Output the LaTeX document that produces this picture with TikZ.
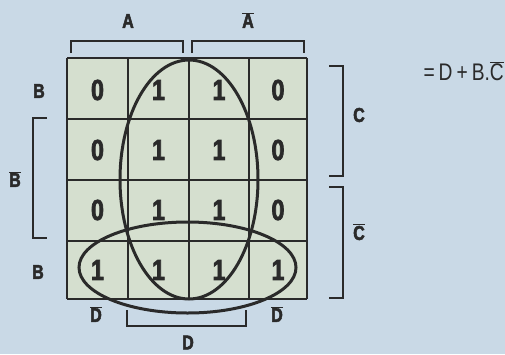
\documentclass[tikz,border=0pt]{standalone}
\usepackage{fontspec}
\newfontfamily\condb[FakeStretch=0.8,FakeBold=2.5]{Liberation Sans Bold}
\newfontfamily\condl[FakeStretch=0.8]{Liberation Sans}
\newcommand{\ovl}[1]{\ensuremath{\overline{\hbox{#1}}}}
\definecolor{bg}{HTML}{C9D9E6}
\definecolor{cellc}{HTML}{D5DFCF}
\definecolor{ink}{HTML}{2A2A2A}
\tikzset{
  digit/.style={font=\condb\fontsize{29}{29}\selectfont, text=ink, inner sep=0pt},
  lbl/.style={font=\condb\fontsize{20}{20}\selectfont, text=ink, inner sep=0pt},
  brk/.style={draw=ink, line width=1.8pt, line cap=butt},
  grp/.style={draw=ink, line width=3pt},
  gridl/.style={draw=ink, line width=2pt}
}
\begin{document}
\begin{tikzpicture}[x=1pt,y=-1pt]
\fill[bg] (0,0) rectangle (505,354);
\useasboundingbox (0,0) rectangle (505,354);
% cells
\fill[cellc] (67,58) rectangle (307,299);
\foreach \x in {67,128,189,249,307} \draw[gridl] (\x,58) -- (\x,299);
\foreach \y in {58,119,180,241,299} \draw[gridl] (67,\y) -- (307,\y);
% digits
\node[digit] (c11) at (97.5,90) {0};
\node[digit] (c12) at (158.5,90) {1};
\node[digit] (c13) at (219,90) {1};
\node[digit] (c14) at (278,90) {0};
\node[digit] (c21) at (97.5,150) {0};
\node[digit] (c22) at (158.5,150) {1};
\node[digit] (c23) at (219,150) {1};
\node[digit] (c24) at (278,150) {0};
\node[digit] (c31) at (97.5,210) {0};
\node[digit] (c32) at (158.5,210) {1};
\node[digit] (c33) at (219,210) {1};
\node[digit] (c34) at (278,210) {0};
\node[digit] (c41) at (97.5,270) {1};
\node[digit] (c42) at (158.5,270) {1};
\node[digit] (c43) at (219,270) {1};
\node[digit] (c44) at (278,270) {1};
% groups
\draw[grp] (189,179.5) ellipse [x radius=69, y radius=119.5];
\draw[grp] (187.5,267.5) ellipse [x radius=108.5, y radius=45.5];
% top brackets
\draw[brk] (71,53) -- (71,41) -- (183,41) -- (183,53);
\draw[brk] (192,53) -- (192,41) -- (304,41) -- (304,53);
\node[lbl] (la) at (128,21) {A};
\node[lbl] (lna) at (248,20) {\ovl{A}};
% left bracket
\draw[brk] (47,118) -- (33,118) -- (33,238) -- (47,238);
\node[lbl] (lb1) at (39,91) {B};
\node[lbl] (lnb) at (15,179) {\ovl{B}};
\node[lbl] (lb2) at (38,272) {B};
% right brackets
\draw[brk] (329,66) -- (343,66) -- (343,176) -- (329,176);
\draw[brk] (329,187) -- (343,187) -- (343,298) -- (329,298);
\node[lbl] (lc) at (359,115) {C};
\node[lbl] (lnc) at (359,232) {\ovl{C}};
% bottom bracket
\draw[brk] (127,310) -- (127,326) -- (246,326) -- (246,310);
\node[lbl] (lnd1) at (96,314) {\ovl{D}};
\node[lbl] (lnd2) at (277,314) {\ovl{D}};
\node[lbl] (ld) at (188,342.5) {D};
% equation
\node[font=\condl\fontsize{24}{24}\selectfont, text=ink, inner sep=0pt, anchor=east] (eq) at (504,71) {=\,D\,+\,B.\ovl{C}};
\end{tikzpicture}
\end{document}
